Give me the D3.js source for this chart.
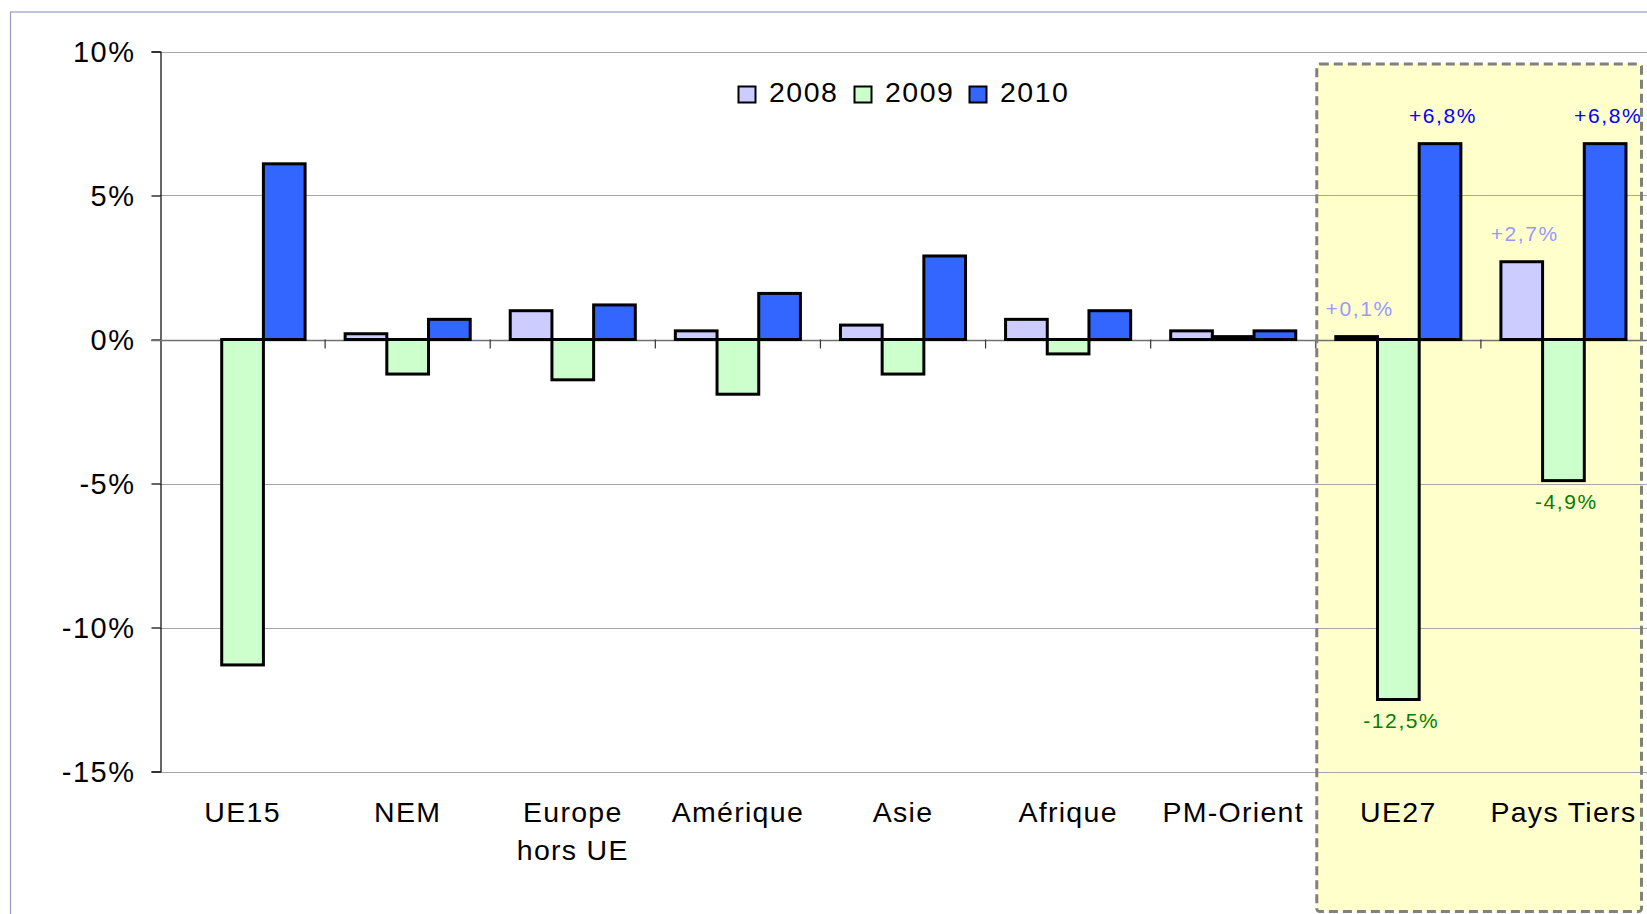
<!DOCTYPE html>
<html>
<head>
<meta charset="utf-8">
<script src="https://cdn.jsdelivr.net/npm/d3@7"></script>
<style>
  html, body { margin: 0; padding: 0; background: #ffffff; }
  svg { display: block; font-family: "Liberation Sans", Arial, sans-serif; }
</style>
</head>
<body>
<svg id="chart" width="1647" height="914"></svg>
<script>
// ---- data ----
const categories = ["UE15", "NEM", "Europe\nhors UE", "Amérique", "Asie", "Afrique", "PM-Orient", "UE27", "Pays Tiers"];
const series = ["2008", "2009", "2010"];
const values2008 = [null, 0.2, 1.0, 0.3, 0.5, 0.7, 0.3, 0.1, 2.7];
const values2009 = [-11.3, -1.2, -1.4, -1.9, -1.2, -0.5, 0.1, -12.5, -4.9];
const values2010 = [6.1, 0.7, 1.2, 1.6, 2.9, 1.0, 0.3, 6.8, 6.8];
const yTicks = [10, 5, 0, -5, -10, -15];
const labelledCategories = ["UE27", "Pays Tiers"];
const highlighted = ["UE27", "Pays Tiers"];

const seriesValues = [values2008, values2009, values2010];
const fills = ["#ccccff", "#ccffcc", "#3366ff"];
const labelColors = ["#9999ff", "#008000", "#0000ff"];

// ---- layout ----
const svg = d3.select("#chart");
const plotLeft = 160, plotRight = 1646, plotTop = 51.5, plotBottom = 771.5;

const x0 = d3.scaleBand().domain(categories).range([plotLeft, plotRight]).paddingInner(0).paddingOuter(0);
const x1 = d3.scaleBand().domain(series).range([0, x0.bandwidth()]).paddingInner(0).paddingOuter(0.48);
const y = d3.scaleLinear().domain([-15, 10]).range([plotBottom, plotTop]);

// outer frame
svg.append("rect")
  .attr("x", 10.5).attr("y", 12).attr("width", 1700).attr("height", 1000)
  .attr("fill", "#ffffff").attr("stroke", "#9a9ac4").attr("stroke-width", 1.2);

// highlight zone
const hx0 = x0(highlighted[0]) + 1;
const hx1 = x0(highlighted[highlighted.length - 1]) + x0.bandwidth() - 4.5;
const hy0 = y(10) + 12.5;
const hy1 = 911.5;
svg.append("rect")
  .attr("x", hx0).attr("y", hy0).attr("width", hx1 - hx0).attr("height", hy1 - hy0)
  .attr("fill", "#ffffcc");

// gridlines
svg.append("g").selectAll("line").data(yTicks.filter(d => d !== 0)).join("line")
  .attr("x1", plotLeft).attr("x2", 1647)
  .attr("y1", d => Math.round(y(d)) + 0.5).attr("y2", d => Math.round(y(d)) + 0.5)
  .attr("stroke", "#a6a6a6").attr("stroke-width", 1);

// y axis
const yAxis = d3.axisLeft(y).tickValues(yTicks).tickSize(9).tickFormat(d => d + "%");
const ga = svg.append("g").attr("transform", `translate(${plotLeft + 0.5},0)`).call(yAxis);
ga.select(".domain").attr("stroke", "#000").attr("stroke-width", 1.2);
ga.selectAll(".tick line").attr("stroke", "#000").attr("stroke-width", 1.2);
ga.selectAll(".tick text")
  .attr("x", -25).attr("dy", "0.35em")
  .attr("font-size", 29).attr("fill", "#000").attr("letter-spacing", "1.5px")
  .style("font-family", "'Liberation Sans', Arial, sans-serif");

// zero line
svg.append("line")
  .attr("x1", plotLeft - 9).attr("x2", 1647)
  .attr("y1", Math.round(y(0)) + 0.5).attr("y2", Math.round(y(0)) + 0.5)
  .attr("stroke", "#707070").attr("stroke-width", 1.3);

// category ticks
svg.append("g").selectAll("line").data(categories.slice(1)).join("line")
  .attr("x1", d => x0(d)).attr("x2", d => x0(d))
  .attr("y1", y(0)).attr("y2", y(0) + 9)
  .attr("stroke", "#333").attr("stroke-width", 1.2);

// bars
const barData = [];
categories.forEach((c, i) => {
  series.forEach((s, j) => {
    const v = seriesValues[j][i];
    if (v !== null) barData.push({ c, s, j, v });
  });
});
svg.append("g").selectAll("rect").data(barData).join("rect")
  .attr("x", d => x0(d.c) + x1(d.s))
  .attr("y", d => y(Math.max(0, d.v)))
  .attr("width", x1.bandwidth())
  .attr("height", d => Math.abs(y(d.v) - y(0)))
  .attr("fill", d => fills[d.j])
  .attr("stroke", "#000").attr("stroke-width", 3);

// highlight dashed border
svg.append("rect")
  .attr("x", hx0).attr("y", hy0).attr("width", hx1 - hx0).attr("height", hy1 - hy0)
  .attr("rx", 3).attr("fill", "none")
  .attr("stroke", "#808080").attr("stroke-width", 3).attr("stroke-dasharray", "9,5");

// data labels
const fmt = v => (v > 0 ? "+" : "-") + Math.abs(v).toFixed(1).replace(".", ",") + "%";
svg.append("g").selectAll("text").data(barData.filter(d => labelledCategories.includes(d.c))).join("text")
  .attr("x", d => x0(d.c) + x1(d.s) + x1.bandwidth() / 2 + 3)
  .attr("y", d => d.v >= 0 ? y(d.v) - 21 : y(d.v) + 28.5)
  .attr("text-anchor", "middle")
  .attr("font-size", 21).attr("letter-spacing", "1.6px")
  .attr("fill", d => labelColors[d.j])
  .text(d => fmt(d.v));

// category labels
const cl = svg.append("g").selectAll("text").data(categories).join("text")
  .attr("x", d => x0(d) + x0.bandwidth() / 2)
  .attr("y", 821.5)
  .attr("text-anchor", "middle")
  .attr("font-size", 28.5).attr("letter-spacing", "1.3px").attr("fill", "#000");
cl.each(function(d) {
  const lines = d.split("\n");
  const t = d3.select(this);
  lines.forEach((ln, k) => {
    t.append("tspan").attr("x", x0(d) + x0.bandwidth() / 2).attr("dy", k === 0 ? 0 : 38.5).text(ln);
  });
});

// legend
const legendX = [738, 854, 969];
const lg = svg.append("g").selectAll("g").data(series).join("g")
  .attr("transform", (d, i) => `translate(${legendX[i]},86)`);
lg.append("rect").attr("x", 0.5).attr("y", 0.5).attr("width", 17).attr("height", 16)
  .attr("fill", (d, i) => fills[i]).attr("stroke", "#000").attr("stroke-width", 2);
lg.append("text").attr("x", 31).attr("y", 15.7)
  .attr("font-size", 28.5).attr("letter-spacing", "1.5px").attr("fill", "#000")
  .text(d => d);
</script>
</body>
</html>
